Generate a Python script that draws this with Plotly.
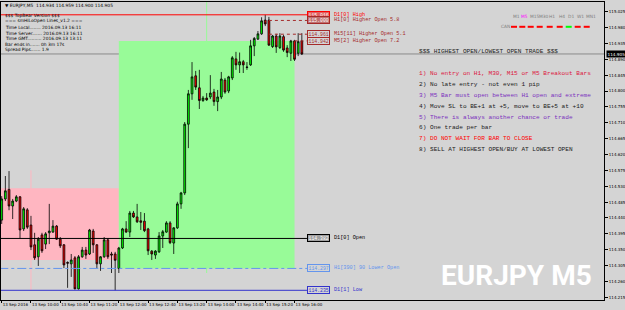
import plotly.graph_objects as go
import pandas as pd

# ---------------- data ----------------
first_bar = "2016-09-13 09:20"
opens = [114.434,114.494,114.521,114.474,114.488,114.500,114.409,114.463,114.420,114.364,
         114.330,114.392,114.366,114.398,114.400,114.417,114.380,114.364,114.314,114.310,
         114.327,114.239,114.330,114.349,114.338,114.403,114.364,114.310,114.330,114.378,
         114.338,114.338,114.297,114.355,114.409,114.400,114.454,114.443,114.432,114.431,
         114.409,114.346,114.335,114.344,114.389,114.400,114.426,114.369,114.412,114.480,
         114.511,114.706,114.792,114.843,114.809,114.773,114.780,114.783,114.797,114.770,
         114.783,114.831,114.800,114.837,114.891,114.874,114.883,114.868,114.874,114.928,
         114.947,114.962,115.001,115.001,114.926,114.956,114.923,114.954,114.922,114.907,
         114.942,114.907,114.942]
highs = [114.502,114.559,114.573,114.494,114.505,114.502,114.471,114.468,114.446,114.398,
         114.386,114.398,114.400,114.480,114.434,114.420,114.386,114.366,114.317,114.338,
         114.332,114.335,114.358,114.358,114.409,114.409,114.366,114.332,114.386,114.383,
         114.344,114.344,114.358,114.412,114.431,114.460,114.460,114.480,114.457,114.454,
         114.412,114.349,114.349,114.400,114.406,114.431,114.431,114.414,114.486,114.514,
         114.712,114.803,114.882,114.857,114.860,114.786,114.794,114.845,114.806,114.803,
         114.854,114.837,114.843,114.899,114.911,114.909,114.888,114.882,114.945,114.953,
         114.970,115.009,115.016,115.010,114.959,114.962,114.964,114.959,114.930,114.945,
         114.945,114.964,114.964]
lows = [114.423,114.488,114.462,114.437,114.485,114.383,114.403,114.409,114.349,114.321,
        114.304,114.341,114.352,114.366,114.398,114.378,114.355,114.298,114.242,114.273,
        114.238,114.237,114.327,114.324,114.335,114.341,114.298,114.290,114.327,114.324,
        114.284,114.235,114.284,114.352,114.398,114.386,114.440,114.426,114.406,114.400,
        114.335,114.321,114.324,114.341,114.355,114.398,114.366,114.338,114.409,114.466,
        114.505,114.638,114.775,114.803,114.749,114.769,114.772,114.777,114.758,114.743,
        114.777,114.792,114.794,114.831,114.860,114.851,114.851,114.860,114.871,114.899,
        114.945,114.959,114.984,114.928,114.922,114.908,114.919,114.911,114.896,114.885,
        114.885,114.899,114.902]
closes = [114.494,114.517,114.474,114.488,114.500,114.406,114.466,114.414,114.358,114.327,
          114.380,114.347,114.395,114.403,114.417,114.380,114.361,114.307,114.312,114.321,
          114.239,114.330,114.349,114.335,114.406,114.364,114.310,114.330,114.378,114.330,
          114.335,114.320,114.355,114.409,114.400,114.454,114.443,114.429,114.428,114.404,
          114.347,114.338,114.346,114.389,114.401,114.426,114.370,114.412,114.480,114.511,
          114.706,114.792,114.840,114.811,114.773,114.780,114.775,114.794,114.770,114.783,
          114.834,114.797,114.840,114.894,114.874,114.883,114.874,114.867,114.928,114.949,
          114.962,114.999,114.990,114.930,114.956,114.925,114.956,114.916,114.909,114.942,
          114.890,114.940,114.905]
times = pd.date_range(first_bar, periods=len(opens), freq="5min")

# H4 candle bodies (boxes)
h4_start = ["2016-09-13 08:00", "2016-09-13 12:00"]
h4_end = ["2016-09-13 12:00", "2016-09-13 16:00"]
h4_open = [114.524, 114.297]
h4_close = [114.321, 114.942]
h4_fill = ["#FFB6C1", "#98FB98"]

# session markers
session_times = ["2016-09-13 10:00", "2016-09-13 14:00"]
session_lo = [114.235, 114.284]
session_hi = [114.575, 115.052]
session_colors = ["#FFB6C1", "#98FB98"]

# price levels
level_names = ["D1[0] High", "H1[0] Higher Open 5.8", "M15[11] Higher Open 5.1",
               "M5[2] Higher Open 7.2", "D1[0] Open", "H1[390] 90 Lower Open", "D1[1] Low"]
level_prices = [115.016, 115.000, 114.961, 114.942, 114.382, 114.297, 114.235]
level_from = ["2016-09-13 06:00", "2016-09-13 15:25", "2016-09-13 15:25",
              "2016-09-13 16:00", "2016-09-13 06:00", "2016-09-13 06:00", "2016-09-13 06:00"]
level_colors = ["#FF0000", "#A52A2A", "#A52A2A", "#A52A2A", "#000000", "#6495ED", "#3333CC"]
level_box_fill = ["#E06060", "#C07070", "#D4D4D4", "#D4D4D4", "#A0A0A0", "#D4D4D4", "#D4D4D4"]
level_dash = ["solid", "dot", "dot", "dot", "solid", "dashdot", "solid"]
label_box_time = "2016-09-13 16:17"
label_text_time = "2016-09-13 16:51"

bid = 114.905

y_ticks = [114.215, 114.260, 114.305, 114.350, 114.395, 114.440, 114.485, 114.530,
           114.575, 114.620, 114.665, 114.710, 114.755, 114.800, 114.845, 114.890,
           114.935, 114.980, 115.025]
x_tick_times = ["2016-09-13 09:20", "2016-09-13 10:00", "2016-09-13 10:40", "2016-09-13 11:20",
                "2016-09-13 12:00", "2016-09-13 12:40", "2016-09-13 13:20", "2016-09-13 14:00",
                "2016-09-13 14:40", "2016-09-13 15:20", "2016-09-13 16:00"]
x_tick_text = ["13 Sep 2016", "13 Sep 10:00", "13 Sep 10:40", "13 Sep 11:20", "13 Sep 12:00",
               "13 Sep 12:40", "13 Sep 13:20", "13 Sep 14:00", "13 Sep 14:40", "13 Sep 15:20",
               "13 Sep 16:00"]

header = "▼ EURJPY,M5  114.934 114.959 114.900 114.905"
info_lines = ["$$$ TopBear Version $$$",
              "=== smHiLoOpen Lines_v1.2 ===",
              "Time Local........ 2016.09.13 16:11",
              "Time Server....... 2016.09.13 16:11",
              "Time GMT.......... 2016.09.13 13:11",
              "Bar ends in....... 0h 3m 17s",
              "Spread Pips....... 1.9"]

tf_names = ["M1", "M5", "M15", "M30", "H1", "H4", "D1", "W1", "MN1"]
tf_label_colors = ["#808080", "#FF00FF", "#808080", "#808080", "#808080", "#808080", "#808080", "#808080", "#808080"]
tf_state_colors = ["#FF0000", "#FF0000", "#FF0000", "#FF0000", "#FF0000", "#FF0000", "#00FF00", "#FF0000", "#FF0000"]

rules_title = "$$$ HIGHEST OPEN/LOWEST OPEN TRADE $$$"
rules = ["1) No entry on H1, M30, M15 or M5 Breakout Bars",
         "2) No late entry - not even 1 pip",
         "3) M5 Bar must open between H1 open and extreme",
         "4) Move SL to BE+1 at +5, move to BE+5 at +10",
         "5) There is always another chance or trade",
         "6) One trade per bar",
         "7) DO NOT WAIT FOR BAR TO CLOSE",
         "8) SELL AT HIGHEST OPEN/BUY AT LOWEST OPEN"]
rule_colors = ["#DC143C", "#202020", "#7B2FBE", "#202020", "#7B2FBE", "#202020", "#FF0000", "#202020"]

watermark = "EURJPY M5"

# ---------------- layout geometry ----------------
W, H = 625, 310
ML, MR, MT, MB = 1, 21, 2, 10
PW, PH = W - ML - MR, H - MT - MB


def px(x):
    return (x - ML) / PW


def py(y):
    return (H - MB - y) / PH


BG = "#D4D4D4"
MONO = "Liberation Mono, Courier New, monospace"
SANS = "DejaVu Sans, Verdana, sans-serif"

fig = go.Figure()

fig.add_trace(go.Candlestick(
    x=times, open=opens, high=highs, low=lows, close=closes,
    increasing=dict(line=dict(color="#000000", width=0.8), fillcolor="#00FF00"),
    decreasing=dict(line=dict(color="#000000", width=0.8), fillcolor="#FF0000"),
    whiskerwidth=0, showlegend=False, hoverinfo="skip"))

shapes = []
for s, e, o, c, f in zip(h4_start, h4_end, h4_open, h4_close, h4_fill):
    shapes.append(dict(type="rect", xref="x", yref="y", x0=s, x1=e, y0=o, y1=c,
                       fillcolor=f, line=dict(width=0), layer="below"))
for t, lo, hi, col in zip(session_times, session_lo, session_hi, session_colors):
    shapes.append(dict(type="line", xref="x", yref="y", x0=t, x1=t, y0=lo, y1=hi,
                       line=dict(color=col, width=1), layer="below"))
shapes.append(dict(type="line", xref="paper", yref="y", x0=0, x1=1, y0=bid, y1=bid,
                   line=dict(color="#8C8C8C", width=1), layer="below"))
for p, f0, col, d in zip(level_prices, level_from, level_colors, level_dash):
    shapes.append(dict(type="line", xref="x", yref="y", x0=f0, x1=label_box_time, y0=p, y1=p,
                       line=dict(color=col, width=1, dash=d), layer="above"))

# timeframe state dashes
tf_x = [511, 519.3, 527.7, 536.7, 546.7, 556.7, 565.7, 574.7, 583.7]
for x0, col in zip(tf_x, tf_state_colors):
    shapes.append(dict(type="rect", xref="paper", yref="paper", x0=px(x0), x1=px(x0 + 6),
                       y0=py(27.8), y1=py(25.8), fillcolor=col, line=dict(width=0)))

annotations = []
for name, p, col, fill in zip(level_names, level_prices, level_colors, level_box_fill):
    annotations.append(dict(x=label_box_time, y=p, xref="x", yref="y", xanchor="left", yanchor="middle",
                            text=f"{p:.3f}", showarrow=False, bgcolor=fill, bordercolor=col,
                            borderwidth=1, borderpad=0.5,
                            font=dict(family=MONO, size=4.8, color=col if fill == BG else "#FFFFFF")))
    annotations.append(dict(x=label_text_time, y=p, xref="x", yref="y", xanchor="left", yanchor="middle",
                            text=name, showarrow=False,
                            font=dict(family=MONO, size=5.2, color=col)))

# current bid box on the axis
annotations.append(dict(x=1, y=bid, xref="paper", yref="y", xanchor="left", yanchor="middle",
                        xshift=2, text=f"{bid:.3f}", showarrow=False, bgcolor="#000000",
                        borderpad=0.5, font=dict(family=SANS, size=4.2, color="#FFFFFF")))

annotations.append(dict(x=px(3), y=py(5), xref="paper", yref="paper", xanchor="left", yanchor="middle",
                        text=header, showarrow=False, font=dict(family=SANS, size=4.4, color="#000000")))
info_y = [15.7, 21.3, 27.3, 33, 38.4, 44, 49.3]
for t, yy in zip(info_lines, info_y):
    annotations.append(dict(x=px(3), y=py(yy), xref="paper", yref="paper", xanchor="left",
                            yanchor="middle", text=t, showarrow=False,
                            font=dict(family=SANS, size=4.4, color="#000000")))

for name, x0, col in zip(tf_names, tf_x, tf_label_colors):
    annotations.append(dict(x=px(x0), y=py(16), xref="paper", yref="paper", xanchor="left",
                            yanchor="middle", text=name, showarrow=False,
                            font=dict(family=SANS, size=4.4, color=col)))
annotations.append(dict(x=px(499), y=py(26.7), xref="paper", yref="paper", xanchor="left",
                        yanchor="middle", text="CAN", showarrow=False,
                        font=dict(family=SANS, size=4.4, color="#808080")))

annotations.append(dict(x=px(417), y=py(51), xref="paper", yref="paper", xanchor="left",
                        yanchor="middle", text=rules_title, showarrow=False,
                        font=dict(family=MONO, size=6.1, color="#202020")))
rule_y = [73.3, 84.2, 95.1, 106, 117, 128, 139, 150]
for t, yy, col in zip(rules, rule_y, rule_colors):
    annotations.append(dict(x=px(417), y=py(yy), xref="paper", yref="paper", xanchor="left",
                            yanchor="middle", text=t, showarrow=False,
                            font=dict(family=MONO, size=6.1, color=col)))

annotations.append(dict(x=px(594), y=py(275), xref="paper", yref="paper", xanchor="right",
                        yanchor="middle", text=f"<b>{watermark}</b>", showarrow=False,
                        font=dict(family="Roboto, Liberation Sans, sans-serif",
                                  size=28, color="#FFFFFF")))

fig.update_layout(
    width=W, height=H, margin=dict(l=ML, r=MR, t=MT, b=MB, autoexpand=False),
    paper_bgcolor=BG, plot_bgcolor=BG,
    shapes=shapes, annotations=annotations, showlegend=False,
    xaxis=dict(type="date", range=["2016-09-13 09:19:03", "2016-09-13 23:02:45"],
               rangeslider=dict(visible=False), showgrid=False, zeroline=False,
               tickvals=x_tick_times, ticktext=x_tick_text, ticks="outside", ticklen=2,
               tickangle=0, automargin=False,
               tickcolor="#000000", ticklabelposition="outside right",
               tickfont=dict(family=SANS, size=4, color="#000000"),
               showline=True, linecolor="#000000", linewidth=1, mirror=True),
    yaxis=dict(range=[114.2075, 115.0523], side="right", showgrid=False, zeroline=False,
               tickvals=y_ticks, ticktext=[f"{v:.3f}" for v in y_ticks], ticks="outside",
               ticklen=3, tickcolor="#000000", automargin=False,
               tickfont=dict(family=SANS, size=4, color="#000000"),
               showline=True, linecolor="#000000", linewidth=1, mirror=True),
)

fig.write_html("out.html")
